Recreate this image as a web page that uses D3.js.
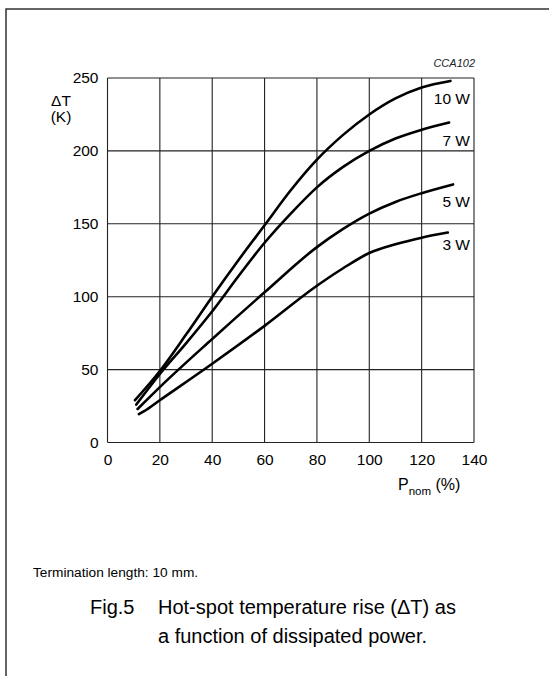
<!DOCTYPE html>
<html>
<head>
<meta charset="utf-8">
<script src="https://cdn.jsdelivr.net/npm/d3@7"></script>
<style>
  body { margin: 0; background: #fff; }
  svg { font-family: "Liberation Sans", Arial, sans-serif; }
</style>
</head>
<body>
<div id="vis"></div>
<script>
    // values
    var xTicks = [0, 20, 40, 60, 80, 100, 120, 140],
        yTicks = [0, 50, 100, 150, 200, 250];

    var seriesNames = ["10 W", "7 W", "5 W", "3 W"];

    var p10 = [10.5, 20, 30, 40, 50, 60, 70, 80, 90, 100, 110, 120, 131],
        t10 = [29, 49, 74, 100, 125, 149, 173, 194, 211, 225, 236, 243.5, 248];
    var p7 = [11, 20, 30, 40, 50, 60, 70, 80, 90, 100, 110, 120, 130.5],
        t7 = [26, 47, 68, 90, 114, 137, 157, 175, 189, 200, 208.5, 214.5, 219.5];
    var p5 = [11.5, 20, 40, 60, 80, 90, 100, 110, 120, 132],
        t5 = [23, 38, 71, 103, 134, 146.5, 157, 165, 171, 177];
    var p3 = [12, 14, 20, 40, 60, 80, 90, 100, 110, 120, 130],
        t3 = [19.5, 21.5, 29, 54, 80, 107.5, 119.5, 130, 136, 140.5, 144];

    var xs = [p10, p7, p5, p3],
        ys = [t10, t7, t5, t3];

    var svg = d3.select("#vis").append("svg").attr("width", 549).attr("height", 676);

    // outer frame (runs off the right and bottom of the picture)
    svg.append("rect").attr("x", 6).attr("y", 9).attr("width", 560).attr("height", 700)
        .attr("fill", "none").attr("stroke", "#333").attr("stroke-width", 1.5);

    var x = d3.scaleLinear().domain([0, 140]).range([107.5, 474]),
        y = d3.scaleLinear().domain([0, 250]).range([442.5, 78]);

    //grid
    svg.append("g").selectAll("line").data(xTicks).enter().append("line")
        .attr("x1", d => x(d)).attr("x2", d => x(d)).attr("y1", y(0)).attr("y2", y(250))
        .attr("stroke", "#222").attr("stroke-width", 1.1);
    svg.append("g").selectAll("line").data(yTicks).enter().append("line")
        .attr("x1", x(0)).attr("x2", x(140)).attr("y1", d => y(d)).attr("y2", d => y(d))
        .attr("stroke", "#222").attr("stroke-width", 1.1);

    // axes, labels only
    var xAxis = svg.append("g").attr("transform", "translate(0," + y(0) + ")")
        .call(d3.axisBottom(x).tickValues(xTicks).tickSize(0).tickPadding(11));
    var yAxis = svg.append("g").attr("transform", "translate(" + x(0) + ",0)")
        .call(d3.axisLeft(y).tickValues(yTicks).tickSize(0).tickPadding(9));
    [xAxis, yAxis].forEach(function (g) {
        g.select(".domain").remove();
        g.selectAll("text").attr("font-size", 15.5).attr("fill", "#000")
            .attr("font-family", "'Liberation Sans', Arial, sans-serif");
    });

    // curves
    var line = d3.line().curve(d3.curveMonotoneX);
    xs.forEach(function (px, i) {
        var pts = px.map((v, j) => [x(v), y(ys[i][j])]);
        svg.append("path").attr("d", line(pts)).attr("fill", "none")
            .attr("stroke", "#000").attr("stroke-width", 2.6).attr("stroke-linecap", "round");
    });

    // curve labels
    var labelY = [103.5, 146, 206.5, 250];
    seriesNames.forEach(function (n, i) {
        svg.append("text").attr("x", 470).attr("y", labelY[i]).attr("text-anchor", "end")
            .attr("font-size", 15.5).attr("fill", "#000").text(n);
    });

    svg.append("text").attr("x", 475).attr("y", 67).attr("text-anchor", "end")
        .attr("font-size", 11).attr("font-style", "italic").attr("fill", "#222").text("CCA102");

    // axis titles
    svg.append("text").attr("x", 61).attr("y", 106).attr("text-anchor", "middle")
        .attr("font-size", 15.5).attr("fill", "#000").text("\u0394T");
    svg.append("text").attr("x", 61).attr("y", 122).attr("text-anchor", "middle")
        .attr("font-size", 15.5).attr("fill", "#000").text("(K)");

    var xt = svg.append("text").attr("x", 398).attr("y", 490).attr("font-size", 16).attr("fill", "#000");
    xt.append("tspan").text("P");
    xt.append("tspan").attr("font-size", 11.5).attr("dy", 5).text("nom");
    xt.append("tspan").attr("dy", -5).text(" (%)");

    // notes and caption
    svg.append("text").attr("x", 33).attr("y", 577).attr("font-size", 13.7).attr("fill", "#000")
        .text("Termination length: 10 mm.");
    svg.append("text").attr("x", 90).attr("y", 614).attr("font-size", 20).attr("fill", "#000").text("Fig.5");
    svg.append("text").attr("x", 158).attr("y", 614).attr("font-size", 20).attr("fill", "#000")
        .text("Hot-spot temperature rise (\u0394T) as");
    svg.append("text").attr("x", 158).attr("y", 643).attr("font-size", 20).attr("fill", "#000")
        .text("a function of dissipated power.");
</script>
</body>
</html>
